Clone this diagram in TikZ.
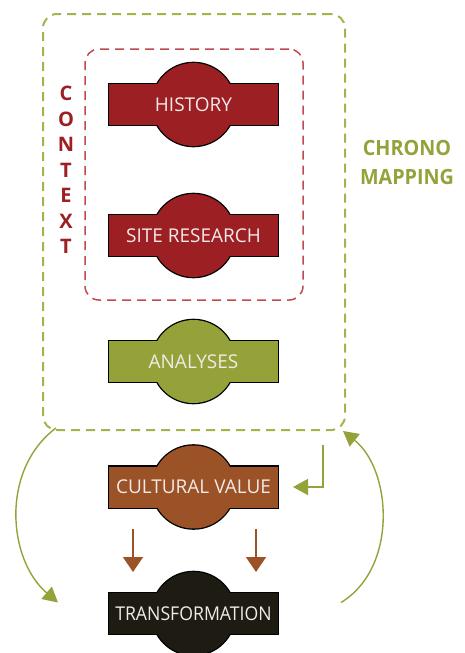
\documentclass[tikz,border=0pt]{standalone}
\usepackage{fontspec}
\setmainfont{Open Sans}
\usetikzlibrary{arrows.meta,calc}

\definecolor{histred}{HTML}{9C1F23}
\definecolor{framered}{HTML}{C24A4F}
\definecolor{olive}{HTML}{95A23A}
\definecolor{frameolive}{HTML}{A6B24E}
\definecolor{rust}{HTML}{9B5226}
\definecolor{nearblack}{HTML}{1E1C12}
\definecolor{labelwhite}{HTML}{F3E9E9}

\tikzset{
  framebox/.style={rectangle, rounded corners=14pt, dash pattern=on 9pt off 6pt,
                   outer sep=0pt, inner sep=0pt},
  barshape/.style={rectangle, draw=black, line width=2.6pt, outer sep=0pt,
                   minimum width=169pt, minimum height=41pt, inner sep=0pt},
  discshape/.style={circle, draw=black, line width=2.6pt, outer sep=0pt,
                    minimum size=83pt, inner sep=0pt},
  signtext/.style={text=labelwhite, font=\fontsize{19}{19}\selectfont, inner sep=0pt},
  greenarrow/.style={draw=olive, line width=1.4pt,
                     -{Triangle[length=15pt,width=16pt]}, color=olive},
  rustarrow/.style={draw=rust, line width=1.5pt,
                    -{Triangle[length=15pt,width=20pt]}, color=rust},
}

% A sign: a bar crossed by a disc, filled as one shape with a single outline
\newcommand\signpost[4]{%
  \node[barshape] (#1-bar) at (193.5,#2) {};
  \node[discshape] (#1-disc) at (193.5,#2) {};
  \fill[#3] (#1-bar.south west) rectangle (#1-bar.north east);
  \fill[#3] (#1-disc.center) circle[radius=41.5];
  \node[signtext] (#1) at (193.5,#2) {#4};
}

\begin{document}
\begin{tikzpicture}[x=1pt,y=-1pt]
\useasboundingbox (0,0) rectangle (465,653);

% outer chrono-mapping frame and inner context frame
\node[framebox, draw=frameolive, line width=2pt,
      minimum width=302pt, minimum height=416pt] (chrono) at (194,222) {};
\node[framebox, draw=framered, line width=1.5pt,
      minimum width=218pt, minimum height=251pt] (context) at (194,174.5) {};

% signs
\signpost{history}{104.5}{histred}{HISTORY}
\signpost{site}{235.5}{histred}{SITE RESEARCH}
\signpost{analyses}{361.5}{olive}{ANALYSES}
\signpost{cv}{487}{rust}{CULTURAL VALUE}
\signpost{trans}{613.5}{nearblack}{\scalebox{0.93}[1]{TRANSFORMATION}}

% side labels
\node[text=histred, font=\bfseries\fontsize{20}{25.5}\selectfont, align=center,
      inner sep=0pt] (contextlabel) at (66,170) {C\\O\\N\\T\\E\\X\\T};
\node[text=olive, font=\bfseries\fontsize{21}{29}\selectfont, align=center,
      inner sep=0pt] (chronolabel) at (407,162.5)
      {\scalebox{0.94}[1]{CHRONO}\\\scalebox{0.94}[1]{MAPPING}};

% feedback from the frame into cultural value
\coordinate (lstart) at ($(chrono.south east)+(-22,15)$);
\coordinate (lend) at ($(cv-bar.east)+(15,0)$);
\draw[greenarrow] (lstart) |- (lend);

% cultural value feeds transformation
\coordinate (ra1) at ($(cv-bar.west)+(24,0)$);
\coordinate (ra2) at ($(cv-bar.east)+(-22,0)$);
\draw[rustarrow] (ra1 |- cv-disc.south) -- (ra1 |- trans-disc.north);
\draw[rustarrow] (ra2 |- cv-disc.south) -- (ra2 |- trans-disc.north);

% loop arcs
\coordinate (leftfrom) at ($(chrono.south west)+(13,-2)$);
\coordinate (leftto) at ($(trans-bar.west)+(-51,-11)$);
\draw[greenarrow] (leftfrom) .. controls (0,470) and (8,560) .. (leftto);

\coordinate (rightfrom) at ($(trans-bar.east)+(63,-11)$);
\coordinate (rightto) at ($(chrono.south east)+(-2,1)$);
\draw[greenarrow] (rightfrom) .. controls (398,568) and (392,470) .. (rightto);
\end{tikzpicture}
\end{document}
